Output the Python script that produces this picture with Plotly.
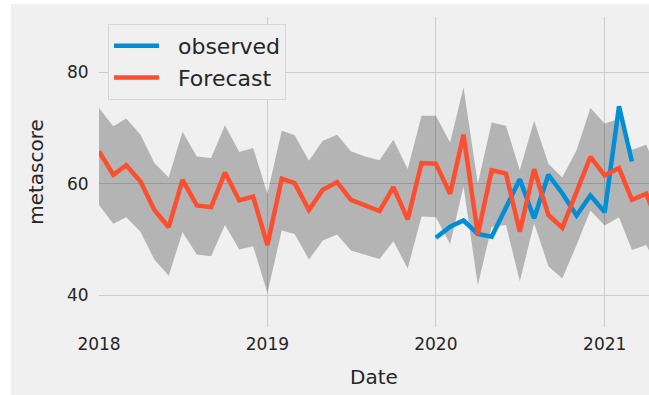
import pandas as pd
import plotly.graph_objects as go

# Monthly forecast with 95% confidence band, plus the observed scores
forecast_dates = pd.date_range("2018-01-01", "2021-05-01", freq="MS")
forecast = [
    65.8, 61.6, 63.3, 60.4, 55.3, 52.2, 60.7, 56.1, 55.8, 62.0, 57.0, 57.7,
    49.0, 60.9, 60.1, 55.3, 58.9, 60.3, 57.1, 56.2, 55.1, 59.4, 53.6, 63.7,
    63.6, 58.2, 68.8, 50.9, 62.4, 61.8, 51.4, 62.6, 54.4, 52.1, 58.4, 64.8,
    61.5, 62.8, 57.1, 58.2, 52.0,
]
upper = [
    73.6, 70.3, 71.7, 68.8, 63.7, 61.1, 69.3, 64.9, 64.6, 70.5, 65.7, 66.4,
    58.2, 69.5, 68.7, 64.1, 67.7, 68.8, 65.8, 64.9, 64.2, 67.9, 62.6, 72.2,
    72.2, 67.4, 77.3, 60.0, 71.0, 70.4, 62.4, 71.3, 63.6, 61.1, 66.0, 73.6,
    70.8, 71.6, 66.1, 67.0, 61.0,
]
lower = [
    56.2, 52.8, 54.0, 51.4, 46.4, 43.5, 51.3, 47.3, 47.0, 52.6, 48.2, 48.8,
    40.4, 51.6, 51.0, 46.4, 49.8, 50.9, 48.0, 47.3, 46.5, 49.7, 44.8, 54.1,
    54.0, 49.2, 59.5, 41.8, 52.3, 52.6, 42.5, 52.9, 45.2, 43.0, 49.0, 55.2,
    52.5, 54.0, 48.1, 49.0, 44.0,
]

observed_dates = pd.date_range("2020-01-01", "2021-03-01", freq="MS")
observed = [
    50.3, 52.3, 53.4, 51.0, 50.5, 55.6, 60.8, 53.8, 61.6, 58.3, 54.3, 57.9,
    54.9, 73.9, 64.0,
]

year_ticks = ["2018-01-01", "2019-01-01", "2020-01-01", "2021-01-01"]
year_labels = ["2018", "2019", "2020", "2021"]
y_ticks = [40, 60, 80]

BG = "#f0f0f0"
GRID = "#cbcbcb"
BLUE = "#008fd5"
RED = "#fc4f30"
TEXT = "#262626"
FONT = "DejaVu Sans"

fig = go.Figure()

# confidence band
fig.add_trace(go.Scatter(
    x=forecast_dates, y=upper, mode="lines", line=dict(width=0),
    showlegend=False, hoverinfo="skip",
))
fig.add_trace(go.Scatter(
    x=forecast_dates, y=lower, mode="lines", line=dict(width=0),
    fill="tonexty", fillcolor="rgba(0,0,0,0.25)",
    showlegend=False, hoverinfo="skip",
))

fig.add_trace(go.Scatter(
    x=observed_dates, y=observed, mode="lines", name="  observed",
    line=dict(color=BLUE, width=4.5), legendgroup="a",
))
fig.add_trace(go.Scatter(
    x=forecast_dates, y=forecast, mode="lines", name="  Forecast",
    line=dict(color=RED, width=4.5), legendgroup="b",
))

W, H = 649, 395
L, R, T, B = 99, 0, 17, 68
pw, ph = W - L - R, H - T - B

fig.update_layout(
    width=W, height=H,
    margin=dict(l=L, r=R, t=T, b=B),
    paper_bgcolor=BG, plot_bgcolor=BG,
    font=dict(family=FONT, color=TEXT, size=17),
    legend=dict(
        x=(108 - L) / pw, y=1 - (24 - T) / ph, xanchor="left", yanchor="top",
        bgcolor=BG, bordercolor="#d6d6d6", borderwidth=1,
        font=dict(size=22, color=TEXT, family=FONT),
        itemwidth=45, traceorder="grouped", tracegroupgap=0,
    ),
    xaxis=dict(
        type="date",
        range=["2018-01-01", "2021-04-07"],
        tickvals=year_ticks, ticktext=year_labels,
        showgrid=True, gridcolor=GRID, gridwidth=1,
        zeroline=False, showline=False,
        ticks="outside", ticklen=2, tickcolor="rgba(0,0,0,0)",
        tickfont=dict(size=17, color=TEXT),
        title=dict(text="Date", font=dict(size=20, color=TEXT), standoff=16),
    ),
    yaxis=dict(
        range=[34.3, 89.9],
        tickvals=y_ticks,
        showgrid=True, gridcolor=GRID, gridwidth=1,
        zeroline=False, showline=False,
        ticks="outside", ticklen=6, tickcolor="rgba(0,0,0,0)",
        tickfont=dict(size=17, color=TEXT),
        title=dict(text="metascore", font=dict(size=20, color=TEXT), standoff=17),
    ),
    shapes=[
        # white strips framing the figure on the left and top
        dict(type="rect", xref="paper", yref="paper",
             x0=-L / pw, x1=(11 - L) / pw, y0=-B / ph, y1=1 + T / ph,
             fillcolor="white", line=dict(width=0), layer="above"),
        dict(type="rect", xref="paper", yref="paper",
             x0=-L / pw, x1=1, y0=1 + (T - 4) / ph, y1=1 + T / ph,
             fillcolor="white", line=dict(width=0), layer="above"),
    ],
)

fig.write_html("out.html")
